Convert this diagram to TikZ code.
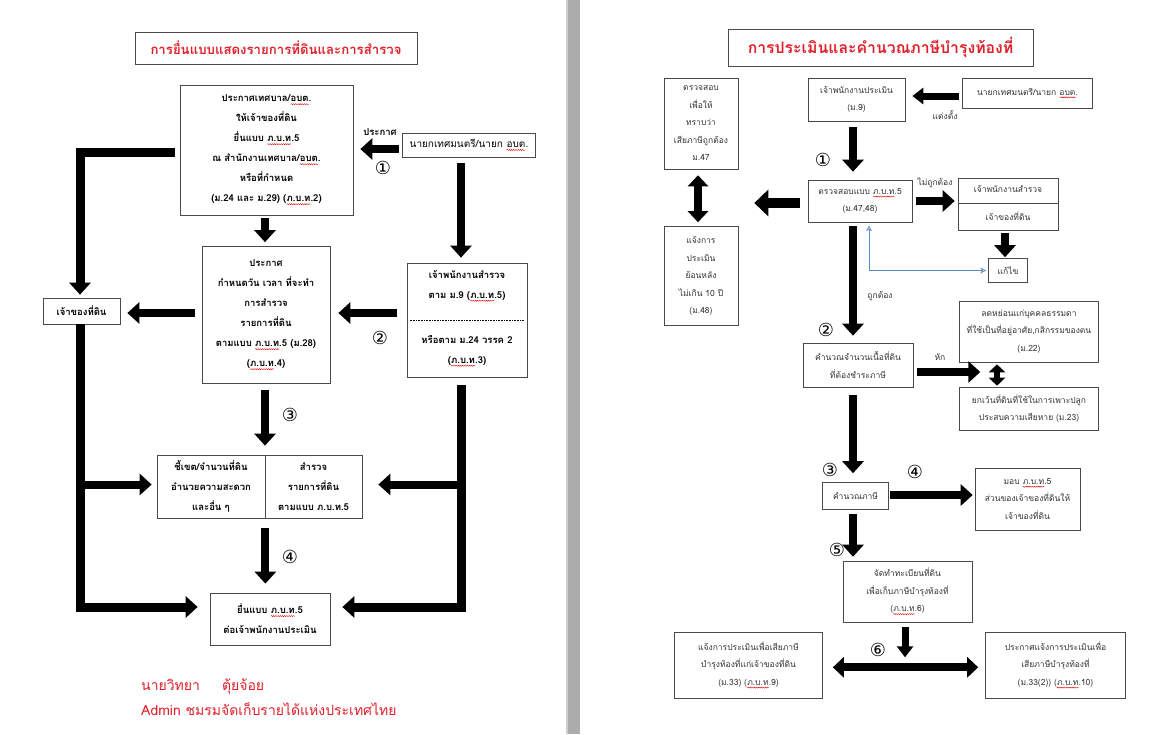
\documentclass[tikz,border=0pt]{standalone}
\usepackage{fontspec}
\newfontfamily\thai[Script=Thai]{Loma}
\newfontfamily\circfont{DejaVu Sans}
\usetikzlibrary{arrows.meta,calc,decorations.pathmorphing}
\definecolor{tred}{HTML}{E2202B}
\definecolor{bxc}{HTML}{4A4A4A}
\definecolor{txr}{HTML}{333333}
\definecolor{lnk}{HTML}{5B8BC5}
\newcommand\wu[1]{\tikz[baseline=(wu.base)]{\node[inner sep=0pt, outer sep=0pt, minimum width=0pt,
  minimum height=0pt, draw=none, fill=none, shape=rectangle, anchor=base] (wu) {#1};
  \draw[red!90!black, line width=0.4pt, decorate, decoration={snake, amplitude=0.55pt, segment length=2.2pt}]
  ([yshift=-2.2pt]wu.base west) -- ([yshift=-2.2pt]wu.base east);}}
\tikzset{
  lb/.style={draw=bxc, line width=0.7pt, inner sep=0pt, align=center,
    font=\thai\bfseries\fontsize{9.5}{20}\selectfont},
  rb/.style={draw=bxc, line width=0.6pt, inner sep=0pt, align=center, text=txr,
    font=\thai\fontsize{8.5}{17.5}\selectfont},
  lt/.style={inner sep=0pt, align=center, font=\thai\bfseries\fontsize{9.5}{20}\selectfont},
  rt/.style={inner sep=0pt, align=center, text=txr, font=\thai\fontsize{8.5}{17.5}\selectfont},
  num/.style={inner sep=0pt, font=\circfont\fontsize{18}{18}\selectfont},
  fat/.style={line width=8pt, -{Triangle[length=12pt,width=21pt]}},
  fatb/.style={line width=10pt, -{Triangle[length=14pt,width=26pt]}},
  fatm/.style={line width=7pt, -{Triangle[length=11pt,width=16pt]}},
  dbl/.style={line width=8pt, {Triangle[length=11pt,width=20pt]}-{Triangle[length=11pt,width=20pt]}},
  dbls/.style={line width=6pt, {Triangle[length=8pt,width=16pt]}-{Triangle[length=8pt,width=16pt]}},
  bar/.style={line width=9pt, line join=miter}
}
\begin{document}
\begin{tikzpicture}[x=1pt,y=-1pt]
\useasboundingbox (0,0) rectangle (1150,734);
\fill[white] (0,0) rectangle (1150,734);
\fill[gray!65] (568,0) rectangle (580,734);
\fill[gray!40] (566,0) rectangle (568,734);

% ---------------- LEFT PAGE ----------------
\node[lb, minimum width=282pt, minimum height=32pt, text=tred,
      font=\thai\bfseries\fontsize{13.2}{15}\selectfont] (T1) at (276,48)
      {การยื่นแบบแสดงรายการที่ดินและการสำรวจ};
\node[lb, minimum width=173pt, minimum height=130pt] (A) at (266.5,150)
  {ประกาศเทศบาล/\wu{อบต}.\\ให้เจ้าของที่ดิน\\ยื่นแบบ \wu{ภ.บ.ท}.5\\ณ สำนักงานเทศบาล/\wu{อบต}.\\หรือที่กำหนด\\(ม.24 และ ม.29) (\wu{ภ.บ.ท}.2)};
\node[lb, minimum width=133pt, minimum height=24pt, font=\thai\fontsize{10}{11}\selectfont] (N) at (469,145)
  {นายกเทศมนตรี/นายก \wu{อบต}.};
\node[lb, minimum width=77pt, minimum height=26pt] (O) at (81.5,311) {เจ้าของที่ดิน};
\node[lb, minimum width=128pt, minimum height=137pt] (B) at (266,315)
  {ประกาศ\\กำหนดวัน เวลา ที่จะทำ\\การสำรวจ\\รายการที่ดิน\\ตามแบบ \wu{ภ.บ.ท}.5 (ม.28)\\(\wu{ภ.บ.ท}.4)};
\node[lb, minimum width=120pt, minimum height=114pt] (C) at (467,320) {};
\node[lt] (C1) at (467,286) {เจ้าพนักงานสำรวจ\\ตาม ม.9 (\wu{ภ.บ.ท}.5)};
\node[lt] (C2) at (467,351) {หรือตาม ม.24 วรรค 2\\(\wu{ภ.บ.ท}.3)};
\draw[densely dotted, line width=0.6pt] ($(C.west)+(3,0)$) -- ($(C.east)+(-3,0)$);
\node[lb, minimum width=108pt, minimum height=63pt] (E) at (211,486.5)
  {ชี้เขต/จำนวนที่ดิน\\อำนวยความสะดวก\\และอื่น ๆ};
\node[lb, minimum width=97pt, minimum height=63pt] (F) at (313.5,486.5)
  {สำรวจ\\รายการที่ดิน\\ตามแบบ ภ.บ.ท.5};
\node[lb, minimum width=120pt, minimum height=52pt] (G) at (270,619)
  {ยื่นแบบ \wu{ภ.บ.ท}.5\\ต่อเจ้าพนักงานประเมิน};

\node[lt, font=\thai\bfseries\fontsize{9.5}{10}\selectfont] (lbA) at (380,132) {ประกาศ};
\node[num] (n1) at (383,168) {①};
\node[num] (n2) at (380,338) {②};
\node[num] (n3) at (290,415) {③};
\node[num] (n4) at (290,557) {④};

% left connectors
\draw[fat] ($(N.west)+(-3,4)$) -- ($(A.east |- N.west)+(7,4)$);
\draw[fat] ($(N.south)+(-8,6)$) -- ($(N.south |- C.north)+(-8,-5)$);
\draw[bar, -{Triangle[length=12pt,width=21pt]}] ($(A.west)+(-5,2)$) -| ($(O.north)+(-1.5,-3)$);
\draw[fat] ($(A.south)+(-1.5,3)$) -- ($(A.south |- B.north)+(-1.5,-4)$);
\draw[fat] ($(C.west)+(-10,-7)$) -- ($(B.east |- C.west)+(8,-7)$);
\draw[fat] ($(B.west)+(-7,-2)$) -- ($(O.east |- B.west)+(7,-2)$);
\draw[fat] ($(B.south)+(-1,6)$) -- ($(B.south |- E.north)+(-1,-9)$);
\draw[fat] ($(E.south east)+(0,10)$) -- ($(E.south east |- G.north)+(0,-9)$);
\coordinate (LB) at ($(O.south |- G.west)+(-1.5,-12)$);
\draw[bar, -{Triangle[length=12pt,width=21pt]}] ($(O.south)+(-1.5,0)$) -- (LB) -- ($(G.west)+(-12,-12)$);
\draw[fat] ($(O.south |- E.west)+(-1.5,-2)$) -- ($(E.west)+(-5,-2)$);
\coordinate (RB) at ($(C.south |- G.east)+(-6,-12)$);
\draw[bar, -{Triangle[length=12pt,width=21pt]}] ($(C.south)+(-6,8)$) -- (RB) -- ($(G.east)+(12,-12)$);
\draw[fat] ($(C.south |- F.east)+(-6,-2)$) -- ($(F.east)+(16,-2)$);

\node[inner sep=0pt, anchor=west, text=tred, font=\thai\fontsize{14}{16}\selectfont] (au1) at (141,686)
  {นายวิทยา\hspace{22pt}ตุ้ยจ้อย};
\node[inner sep=0pt, anchor=west, text=tred, font=\thai\fontsize{14}{16}\selectfont] (au2) at (141,709)
  {Admin ชมรมจัดเก็บรายได้แห่งประเทศไทย};

% ---------------- RIGHT PAGE ----------------
\node[lb, minimum width=305pt, minimum height=37pt, text=tred,
      font=\thai\bfseries\fontsize{15.8}{18}\selectfont] (T2) at (880.5,47.5)
      {การประเมินและคำนวณภาษีบำรุงท้องที่};
\node[rb, minimum width=97pt, minimum height=43pt] (R1) at (856.5,99.5) {เจ้าพนักงานประเมิน\\(ม.9)};
\node[rb, minimum width=130pt, minimum height=30pt] (R0) at (1027.5,93) {นายกเทศมนตรี/นายก \wu{อบต}.};
\node[rt] (lb1) at (945,115) {แต่งตั้ง};
\node[rb, minimum width=74pt, minimum height=91pt] (L1) at (701,123.5)
  {ตรวจสอบ\\เพื่อให้\\ทราบว่า\\เสียภาษีถูกต้อง\\ม.47};
\node[rb, minimum width=74pt, minimum height=99pt] (L2) at (701,276)
  {แจ้งการ\\ประเมิน\\ย้อนหลัง\\ไม่เกิน 10 ปี\\(ม.48)};
\node[rb, minimum width=104pt, minimum height=42pt] (R2) at (860,201) {ตรวจสอบแบบ \wu{ภ.บ.ท}.5\\(ม.47,48)};
\node[rt] (lb2) at (935,183) {ไม่ถูกต้อง};
\node[rb, minimum width=100pt, minimum height=52pt] (R3) at (1008,204) {};
\draw[bxc, line width=0.6pt] (R3.west |- 0,203) -- (R3.east |- 0,203);
\node[rt] (R3a) at (1008,189) {เจ้าพนักงานสำรวจ};
\node[rt] (R3b) at (1008,216) {เจ้าของที่ดิน};
\node[rb, minimum width=39pt, minimum height=24pt] (K) at (1008,270.5) {แก้ไข};
\node[rt] (lb3) at (880,296) {ถูกต้อง};
\node[rb, minimum width=110pt, minimum height=44pt] (R4) at (858,365) {คำนวณจำนวนเนื้อที่ดิน\\ที่ต้องชำระภาษี};
\node[rt] (lb4) at (940,357) {หัก};
\node[rb, minimum width=139pt, minimum height=61pt] (R5) at (1029,331.5)
  {ลดหย่อนแก่บุคคลธรรมดา\\ที่ใช้เป็นที่อยู่อาศัย,กสิกรรมของตน\\(ม.22)};
\node[rb, minimum width=139pt, minimum height=43pt] (R6) at (1029,408.5)
  {ยกเว้นที่ดินที่ใช้ในการเพาะปลูก\\ประสบความเสียหาย (ม.23)};
\node[rb, minimum width=66pt, minimum height=27pt] (R7) at (855.5,496) {คำนวณภาษี};
\node[rb, minimum width=105pt, minimum height=62pt] (R8) at (1027.5,499)
  {มอบ \wu{ภ.บ.ท}.5\\ส่วนของเจ้าของที่ดินให้\\เจ้าของที่ดิน};
\node[rb, minimum width=129pt, minimum height=61pt] (R9) at (907.5,591.5)
  {จัดทำทะเบียนที่ดิน\\เพื่อเก็บภาษีบำรุงท้องที่\\(\wu{ภ.บ.ท}.6)};
\node[rb, minimum width=148pt, minimum height=66pt] (R10) at (748.5,665)
  {แจ้งการประเมินเพื่อเสียภาษี\\บำรุงท้องที่แก่เจ้าของที่ดิน\\(ม.33) (\wu{ภ.บ.ท}.9)};
\node[rb, minimum width=140pt, minimum height=66pt] (R11) at (1055.5,665)
  {ประกาศแจ้งการประเมินเพื่อ\\เสียภาษีบำรุงท้องที่\\(ม.33(2)) (\wu{ภ.บ.ท}.10)};

\node[num] (m1) at (823,160) {①};
\node[num] (m2) at (826,330) {②};
\node[num] (m3) at (830,470) {③};
\node[num] (m4) at (915,472) {④};
\node[num] (m5) at (837,550) {⑤};
\node[num] (m6) at (878,650) {⑥};

% right connectors
\draw[fatm] ($(R0.west)+(-3,3)$) -- ($(R1.east |- R0.west)+(7,3)$);
\draw[fat] ($(R1.south)+(-3.5,6)$) -- ($(R1.south |- R2.north)+(-3.5,-8)$);
\draw[fatb] ($(R2.west)+(-8,2)$) -- ($(L1.east |- R2.west)+(16,2)$);
\draw[dbl] ($(L1.south)+(-3,6)$) -- ($(L2.north)+(-3,-4)$);
\draw[fat] ($(R2.east)+(4,0)$) -- ($(R3.west |- R2.east)+(-3,0)$);
\draw[fat] ($(R3.south)+(-3,3)$) -- ($(R3.south |- K.north)+(-3,-1)$);
\coordinate (BC) at ($(K.west -| R2.south)+(9,0)$);
\draw[lnk, line width=0.7pt, {Stealth[length=6pt,width=6pt,open]}-{Stealth[length=6pt,width=6pt,open]}]
  ($(BC |- R2.south)+(0,3)$) -- (BC) -- ($(K.west)+(-2,0)$);
\draw[fat] ($(R2.south)+(-7,4)$) -- ($(R2.south |- R4.north)+(-7,-7)$);
\draw[fat] ($(R4.east)+(4,7)$) -- ($(R4.east)+(67,7)$);
\draw[dbls] ($(R5.south)+(-32,2)$) -- ($(R6.north)+(-32,-1)$);
\draw[fat] ($(R4.south)+(-5,8)$) -- ($(R4.south |- R7.north)+(-5,-9)$);
\draw[fat] ($(R7.east)+(1.5,-1)$) -- ($(R8.west |- R7.east)+(-2,-1)$);
\draw[fat] ($(R7.south)+(-2.5,4)$) -- ($(R7.south |- R9.north)+(-2.5,-4)$);
\coordinate (DB) at ($(R9.south)+(-2.5,45)$);
\draw[fatm] ($(R9.south)+(-2.5,5)$) -- ($(DB)+(0,-10)$);
\draw[dbl] ($(R10.east |- DB)+(10,0)$) -- ($(R11.west |- DB)+(-7,0)$);
\end{tikzpicture}
\end{document}
